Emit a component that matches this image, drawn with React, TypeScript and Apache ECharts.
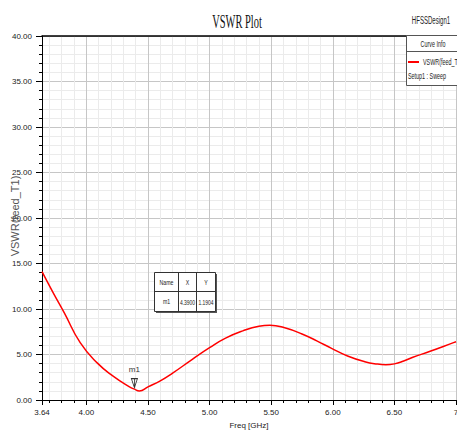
import React, { useEffect, useRef } from "react";
import * as echarts from "echarts";

// Frequency (GHz) and VSWR values
const FREQ = [3.64, 3.73, 3.82, 3.95, 4.09, 4.22, 4.35, 4.39, 4.43, 4.5, 4.6, 4.7, 4.86, 5.0, 5.13, 5.27, 5.4, 5.49, 5.61, 5.75, 5.87, 5.99, 6.12, 6.26, 6.36, 6.43, 6.5, 6.57, 6.65, 6.79, 6.98, 7.0];
const VSWR = [14.1, 11.8, 9.6, 6.3, 4.05, 2.6, 1.45, 1.19, 1.0, 1.45, 2.1, 2.95, 4.47, 5.75, 6.8, 7.6, 8.1, 8.21, 7.93, 7.25, 6.5, 5.68, 4.84, 4.21, 3.95, 3.88, 3.97, 4.25, 4.7, 5.35, 6.3, 6.4];

// Marker m1
const MARKER_NAME = "m1";
const MARKER_X = 4.39;
const MARKER_Y = 1.1904;

const X_MIN = 3.64;
const X_MAX = 7;
const Y_MIN = 0;
const Y_MAX = 40;
const Y_NAME = "VSWR(feed_T1)";

const SANS = '"Liberation Sans", Arial, sans-serif';

const MAJOR = "#c6c6c6";
const MINOR = "#ebebeb";
const NONE = "rgba(0,0,0,0)";

export default function App() {
  const ref = useRef<HTMLDivElement>(null);
  useEffect(() => {
    if (!ref.current) return;
    const chart = echarts.init(ref.current, null, { renderer: "svg" });
    // grid line colours for the 0.02-step helper axis (period 25 = 0.5 GHz)
    const gridColors: string[] = [];
    for (let i = 0; i < 25; i++) {
      if (i === 18) gridColors.push(MAJOR);
      else if (i % 5 === 3) gridColors.push(MINOR);
      else gridColors.push(NONE);
    }
    const data = FREQ.map((f, i) => [f, VSWR[i]]);
    const smallText = (text: string, x: number, y: number, size: number, sx: number, align = "center", fill = "#222") => ({
      type: "text",
      x,
      y,
      scaleX: sx,
      z: 100,
      style: { text, font: `${size}px ${SANS}`, fill, align, verticalAlign: "middle" },
    });
    chart.setOption({
      animation: false,
      backgroundColor: "#ffffff",
      grid: { left: 42, right: 1, top: 36, bottom: 32, containLabel: false, outerBoundsMode: "none" },
      xAxis: [
        {
          type: "value",
          min: X_MIN,
          max: X_MAX,
          position: "bottom",
          name: "Freq [GHz]",
          nameLocation: "middle",
          nameGap: 21,
          nameTextStyle: { fontFamily: SANS, fontSize: 8, color: "#222" },
          axisLine: { show: true, lineStyle: { color: "#000", width: 1 } },
          axisTick: { show: true, inside: false, length: 5, lineStyle: { color: "#000" } },
          minorTick: { show: true, splitNumber: 5, length: 3, lineStyle: { color: "#000" } },
          axisLabel: {
            fontFamily: SANS,
            fontSize: 8,
            color: "#222",
            margin: 8,
            formatter: (v: number) => (Math.abs(v - 7) < 1e-6 ? "7" : v.toFixed(2)),
          },
          splitLine: { show: false },
          minorSplitLine: { show: false },
        },
        {
          type: "value",
          min: X_MIN,
          max: X_MAX,
          interval: 0.02,
          position: "top",
          axisLine: { show: true, onZero: false, lineStyle: { color: "#000", width: 1.5 } },
          axisTick: { show: false },
          axisLabel: { show: false },
          splitLine: { show: true, lineStyle: { color: gridColors, width: 1 } },
        },
      ],
      yAxis: {
        type: "value",
        min: Y_MIN,
        max: Y_MAX,
        interval: 5,
        axisLine: { show: true, lineStyle: { color: "#000", width: 1 } },
        axisTick: { show: true, inside: false, length: 6, lineStyle: { color: "#000" } },
        minorTick: { show: true, splitNumber: 5, length: 3, lineStyle: { color: "#000" } },
        axisLabel: {
          fontFamily: SANS,
          fontSize: 8,
          color: "#222",
          margin: 10,
          formatter: (v: number) => v.toFixed(2),
        },
        splitLine: { show: true, lineStyle: { color: MAJOR, width: 1 } },
        minorSplitLine: { show: true, lineStyle: { color: MINOR, width: 1 } },
      },
      series: [
        {
          type: "line",
          xAxisIndex: 0,
          data,
          smooth: 0.5,
          showSymbol: false,
          lineStyle: { color: "#ff0000", width: 1.5 },
          markPoint: {
            symbol: "path://M0,0 L10,0 L5,10 Z M5,0 L5,10",
            symbolSize: [6, 9],
            symbolOffset: [0, -6],
            itemStyle: { color: "none", borderColor: "#333", borderWidth: 1 },
            label: {
              show: true,
              position: "top",
              distance: 2,
              formatter: MARKER_NAME,
              fontFamily: SANS,
              fontSize: 8,
              color: "#333",
            },
            data: [{ coord: [MARKER_X, MARKER_Y] }],
          },
        },
      ],
      graphic: [
        {
          type: "text",
          x: 237,
          y: 21,
          scaleX: 0.55,
          style: { text: "VSWR Plot", font: '19px "Liberation Serif", serif', fill: "#111", align: "center", verticalAlign: "middle" },
        },
        {
          type: "text",
          x: 15,
          y: 216,
          rotation: Math.PI / 2,
          style: { text: Y_NAME, font: `11px ${SANS}`, fill: "#555", align: "center", verticalAlign: "middle" },
        },
        smallText("HFSSDesign1", 431, 20, 11, 0.55),
        // legend box
        { type: "rect", z: 99, shape: { x: 406.5, y: 35.5, width: 60, height: 50 }, style: { fill: "#fff", stroke: "#555", lineWidth: 1 } },
        { type: "line", z: 100, shape: { x1: 406.5, y1: 51.5, x2: 457, y2: 51.5 }, style: { stroke: "#555", lineWidth: 1 } },
        smallText("Curve Info", 433, 44, 9, 0.6),
        { type: "line", z: 100, shape: { x1: 408, y1: 62, x2: 419, y2: 62 }, style: { stroke: "#ff0000", lineWidth: 2 } },
        smallText("VSWR(feed_T1)", 423, 62, 9, 0.6, "left"),
        smallText("Setup1 : Sweep", 408, 76, 9, 0.6, "left"),
        // marker table
        { type: "rect", z: 98, shape: { x: 156, y: 274, width: 61, height: 39 }, style: { fill: "#555" } },
        { type: "rect", z: 99, shape: { x: 154.5, y: 272.5, width: 61, height: 39 }, style: { fill: "#fff", stroke: "#333", lineWidth: 1 } },
        { type: "line", z: 100, shape: { x1: 154.5, y1: 291.5, x2: 215.5, y2: 291.5 }, style: { stroke: "#333", lineWidth: 1 } },
        { type: "line", z: 100, shape: { x1: 178.5, y1: 272.5, x2: 178.5, y2: 311.5 }, style: { stroke: "#333", lineWidth: 1 } },
        { type: "line", z: 100, shape: { x1: 196.5, y1: 272.5, x2: 196.5, y2: 311.5 }, style: { stroke: "#333", lineWidth: 1 } },
        smallText("Name", 166.5, 282, 8, 0.65),
        smallText("X", 187.5, 282, 8, 0.65),
        smallText("Y", 206, 282, 8, 0.65),
        smallText(MARKER_NAME, 166.5, 301.5, 8, 0.65),
        smallText(MARKER_X.toFixed(4), 187.5, 301.5, 8, 0.62),
        smallText(MARKER_Y.toFixed(4), 206, 301.5, 8, 0.62),
      ],
    });
    return () => chart.dispose();
  }, []);
  return <div ref={ref} style={{ position: "fixed", left: 0, top: 0, width: 457, height: 432 }} />;
}
